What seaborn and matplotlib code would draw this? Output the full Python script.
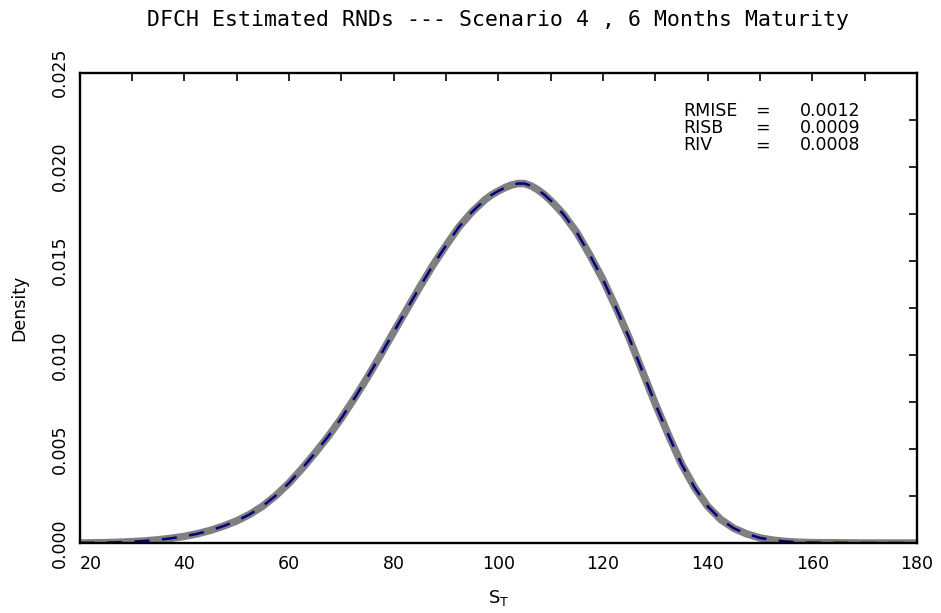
import numpy as np
import pandas as pd
import matplotlib
matplotlib.use("Agg")
import matplotlib.pyplot as plt
import seaborn as sns

# ---- data ----
s_t = [20, 22.5, 25, 27.5, 30, 32.5, 35, 37.5, 40, 42.5, 45, 47.5,
       50, 52.5, 55, 57.5, 60, 62.5, 65, 67.5, 70, 72.5, 75, 77.5,
       80, 82.5, 85, 87.5, 90, 92.5, 95, 97.5, 98.75, 100, 101.25, 102.5,
       103.75, 105, 106.25, 107.5, 108.75, 110, 111.25, 112.5, 115, 117.5,
       120, 122.5, 125, 127.5, 130, 132.5, 135, 137.5,
       140, 142.5, 145, 147.5, 150, 152.5, 155, 157.5, 160, 170, 180]
true_rnd = [0.00000, 0.00001, 0.00002, 0.00004, 0.00007, 0.00011, 0.00017, 0.00025,
            0.00035, 0.00049, 0.00067, 0.00090, 0.00117, 0.00152, 0.00196, 0.00252,
            0.00318, 0.00395, 0.00478, 0.00566, 0.00662, 0.00768, 0.00880, 0.00998,
            0.01120, 0.01240, 0.01360, 0.01475, 0.01580, 0.01680, 0.01760, 0.01825,
            0.01850, 0.01870, 0.01888, 0.01902, 0.01910, 0.01910, 0.01898, 0.01878,
            0.01852, 0.01820, 0.01784, 0.01745, 0.01650, 0.01530,
            0.01400, 0.01250, 0.01090, 0.00915, 0.00740, 0.00575, 0.00420, 0.00295,
            0.00195, 0.00125, 0.00078, 0.00048, 0.00027, 0.00015, 0.00008, 0.00004,
            0.00002, 0.00000, 0.00000]

stats_names = ["RMISE", "RISB", "RIV"]
stats_values = ["0.0012", "0.0009", "0.0008"]

x_ticks = [20, 40, 60, 80, 100, 120, 140, 160, 180]
y_ticks = [0.000, 0.005, 0.010, 0.015, 0.020, 0.025]

df = pd.DataFrame({"S_T": s_t, "density": true_rnd})

# ---- style ----
sns.set_style("white")
plt.rcParams["font.family"] = ["DejaVu Sans"]
plt.rcParams["mathtext.fontset"] = "dejavusans"
plt.rcParams["text.color"] = "black"
plt.rcParams["axes.labelcolor"] = "black"

fig = plt.figure(figsize=(9.41, 6.13), dpi=100)
ax = fig.add_axes([0.0845, 0.1142, 0.8900, 0.7675])

# estimated RNDs (gray band) and true RND (navy dashes)
sns.lineplot(data=df, x="S_T", y="density", ax=ax, color="#808080",
             linewidth=5.4, solid_capstyle="butt")
sns.lineplot(data=df, x="S_T", y="density", ax=ax, color="#000080",
             linewidth=1.8, linestyle=(0, (6, 5)))

ax.set_xlim(20, 180)
ax.set_ylim(0, 0.025)
ax.set_xticks(x_ticks)
ax.set_xticks(np.arange(30, 180, 20), minor=True)
ax.set_yticks(y_ticks)
ax.set_yticks(np.arange(0.0025, 0.025, 0.005), minor=True)
ax.set_xticklabels([str(v) for v in x_ticks])
ax.set_yticklabels([f"{v:.3f}" for v in y_ticks], rotation=90, va="center")
ax.tick_params(which="both", direction="in", length=6, width=1.2,
               top=True, right=True, labelsize=12.5, colors="black")
ax.tick_params(axis="x", pad=9)
ax.tick_params(axis="y", pad=8)
ax.get_xticklabels()[0].set_ha("left")

for sp in ax.spines.values():
    sp.set_linewidth(1.7)
    sp.set_color("black")

ax.set_xlabel(r"S$_{\mathrm{T}}$", fontsize=13)
ax.xaxis.set_label_coords(0.5, -0.095)
ax.set_ylabel("Density", fontsize=12.5)
ax.yaxis.set_label_coords(-0.061, 0.5)

# fit statistics box, one text per column
col_kw = dict(transform=ax.transAxes, fontsize=12.5, va="top", linespacing=0.95)
ax.text(0.7214, 0.938, "\n".join(stats_names), **col_kw)
ax.text(0.8065, 0.938, "\n".join(["="] * len(stats_names)), **col_kw)
ax.text(0.8600, 0.938, "\n".join(stats_values), **col_kw)

fig.text(0.529, 1 - 26 / 613, "DFCH Estimated RNDs --- Scenario 4 , 6 Months Maturity",
         ha="center", va="baseline", fontsize=15.5, family="DejaVu Sans Mono")

fig.savefig("out.png", dpi=100)
